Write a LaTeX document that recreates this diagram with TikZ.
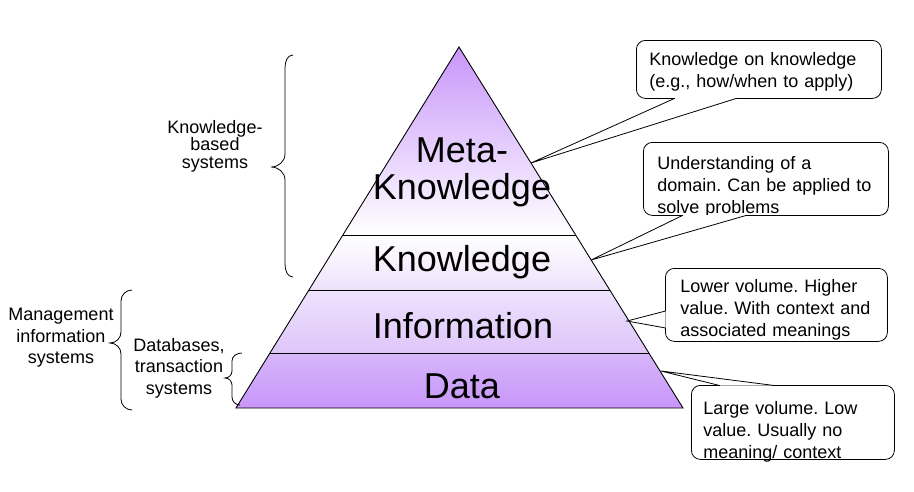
\documentclass[tikz,border=0pt]{standalone}
\usepackage{fontspec}
\setmainfont{Liberation Sans}
\frenchspacing
\usetikzlibrary{calc,positioning}
\definecolor{pyrpurple}{RGB}{200,150,250}
\definecolor{pyrlight}{RGB}{238,226,252}
\definecolor{pyrmid}{RGB}{222,198,250}
\definecolor{pyrdata}{RGB}{214,182,250}
\tikzset{
  layerlbl/.style={font=\fontsize{36}{37}\selectfont, align=center},
  sidelbl/.style={font=\fontsize{18}{21.5}\selectfont, align=center},
  callbox/.style={draw, fill=white, rounded corners=9pt, line width=0.8pt,
    align=left, anchor=north west, inner xsep=13pt, inner ysep=2pt,
    font=\fontsize{18}{22}\selectfont\frenchspacing},
  pointer/.style={draw, fill=white, line width=0.8pt},
  brace/.style={line width=0.8pt}
}

\begin{document}
\begin{tikzpicture}[x=1pt,y=-1pt]
\useasboundingbox (0,0) rectangle (914,491);

% Pyramid corners
\coordinate (apex) at (459,47);
\coordinate (bl) at (236,408);
\coordinate (br) at (683,408);

% Layer borders
\coordinate (kl) at ($(apex)!0.5208!(bl)$);
\coordinate (kr) at ($(apex)!0.5208!(br)$);
\coordinate (il) at ($(apex)!0.6731!(bl)$);
\coordinate (ir) at ($(apex)!0.6731!(br)$);
\coordinate (dl) at ($(apex)!0.8476!(bl)$);
\coordinate (dr) at ($(apex)!0.8476!(br)$);

% Layer shading
\shade[top color=pyrpurple, bottom color=white] (apex) -- (kl) -- (kr) -- cycle;
\shade[top color=white, bottom color=pyrlight] (kl) -- (il) -- (ir) -- (kr) -- cycle;
\shade[top color=pyrlight, bottom color=pyrmid] (il) -- (dl) -- (dr) -- (ir) -- cycle;
\shade[top color=pyrdata, bottom color=pyrpurple] (dl) -- (bl) -- (br) -- (dr) -- cycle;

% Outline
\draw[line width=0.9pt] (apex) -- (bl) -- (br) -- cycle;
\draw[line width=0.9pt] (kl) -- (kr) (il) -- (ir) (dl) -- (dr);

% Layer labels
\node[layerlbl, anchor=base] (metalbl) at (462,199) {Meta-\\Knowledge};
\node[layerlbl, anchor=base] (knowlbl) at (462,271) {Knowledge};
\node[layerlbl, anchor=base] (infolbl) at (463,338) {Information};
\node[layerlbl, anchor=base] (datalbl) at (462,398) {Data};

% Callout boxes
\node[callbox, text width=219pt, minimum height=58pt, text depth=20pt] (kkbox) at (636,40)
  {Knowledge on knowledge\\(e.g., how/when to apply)};
\node[callbox, text width=217pt, inner xsep=14pt, minimum height=73pt, text depth=32pt] (udbox) at (643,142)
  {Understanding of a\\domain. Can be applied to\\solve problems};
\node[callbox, text width=192pt, inner xsep=15pt, minimum height=73pt, text depth=38pt] (lvbox) at (665,268)
  {Lower volume. Higher\\value. With context and\\associated meanings};
\node[callbox, text width=179pt, inner xsep=12pt, minimum height=74pt, text depth=28pt] (lgbox) at (691,385)
  {Large volume. Low\\value. Usually no\\meaning/ context};

% Pointer tips
\coordinate (metatip) at ($(apex)!0.3213!(br)$);
\coordinate (knowtip) at ($(apex)!0.59!(br)$);
\coordinate (infotip) at (627,321);
\coordinate (datatip) at (661,371);

% Pointers
\draw[pointer] ([xshift=39pt,yshift=0.6pt]kkbox.south west) -- (metatip) -- ([xshift=101pt,yshift=0.6pt]kkbox.south west);
\draw[pointer] ([xshift=40pt,yshift=0.6pt]udbox.south west) -- (knowtip) -- ([xshift=104pt,yshift=0.6pt]udbox.south west);
\draw[pointer] ([xshift=0.6pt,yshift=-43pt]lvbox.north west) -- (infotip) -- ([xshift=0.6pt,yshift=-60pt]lvbox.north west);
\draw[pointer] ([xshift=29pt,yshift=-0.6pt]lgbox.north west) -- (datatip) -- ([xshift=84pt,yshift=-0.6pt]lgbox.north west);

% Braces
\draw[brace] (293,55) to[out=180,in=90] (285,68) -- (285,154) to[out=-90,in=0] (271,167)
  to[out=0,in=90] (285,180) -- (285,264) to[out=-90,in=180] (293,277);
\draw[brace] (132,290) to[out=180,in=90] (121,301) -- (121,332) to[out=-90,in=0] (110,343)
  to[out=0,in=90] (121,354) -- (121,399) to[out=-90,in=180] (132,410);
\draw[brace] (242,353) to[out=180,in=90] (232,361) -- (232,371) to[out=-90,in=0] (225,378)
  to[out=0,in=90] (232,385) -- (232,397) to[out=-90,in=180] (240,405);

% Side labels
\node[sidelbl, font=\fontsize{18}{17.5}\selectfont] (kbslbl) at (215,146) {Knowledge-\\based\\systems};
\node[sidelbl] (mislbl) at (61,338) {Management\\information\\systems};
\node[sidelbl] (dbtlbl) at (179,368) {Databases,\\transaction\\systems};

\end{tikzpicture}
\end{document}
